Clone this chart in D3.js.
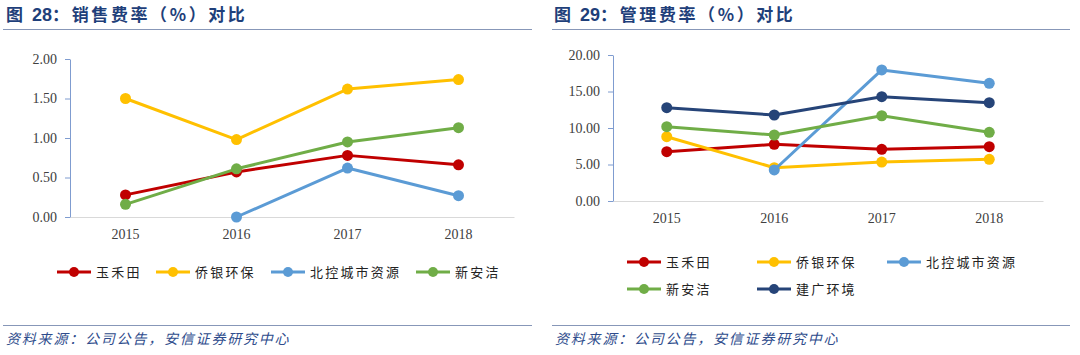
<!DOCTYPE html>
<html><head><meta charset="utf-8">
<script src="https://cdn.jsdelivr.net/npm/d3@7"></script>
<style>
html,body{margin:0;padding:0;background:#fff;}
svg{display:block;}
</style></head>
<body>
<svg id="c" width="1080" height="355"></svg>
<script>
// ---- data ----
const years = ["2015","2016","2017","2018"];
const companies = ["玉禾田","侨银环保","北控城市资源","新安洁","建广环境"];
const colors = ["#C00000","#FFC000","#5B9BD5","#70AD47","#264478"];

// 图28 销售费率 (%)
const sales_yuhetian = [0.28, 0.57, 0.78, 0.66];
const sales_qiaoyin  = [1.50, 0.98, 1.62, 1.74];
const sales_beikong  = [null, 0.00, 0.62, 0.27];
const sales_xinanjie = [0.16, 0.61, 0.95, 1.13];
const salesTicks = [0, 0.5, 1.0, 1.5, 2.0];

// 图29 管理费率 (%)
const admin_yuhetian = [6.75, 7.76, 7.08, 7.44];
const admin_qiaoyin  = [8.81, 4.56, 5.34, 5.71];
const admin_beikong  = [null, 4.25, 17.95, 16.12];
const admin_xinanjie = [10.18, 9.04, 11.68, 9.41];
const admin_jianguang= [12.78, 11.78, 14.29, 13.47];
const adminTicks = [0, 5, 10, 15, 20];

const source = "资料来源：公司公告，安信证券研究中心";

const svg = d3.select("#c");
const titleColor = "#1F3F7A";
const cjk = "'Noto Sans CJK SC','Noto Sans',sans-serif";
const serif = "'Liberation Serif','DejaVu Serif',serif";

function panel(o){
  const g = svg.append("g");
  // title
  const t = g.append("text").attr("x", o.tx).attr("y", 21)
    .attr("font-family", cjk).attr("font-weight", 700).attr("font-size", 17)
    .attr("fill", titleColor).attr("letter-spacing", 2.6);
  t.append("tspan").text("图 ");
  t.append("tspan").attr("font-family","'Liberation Sans',Arial,sans-serif").attr("font-size",18)
    .attr("letter-spacing", 0).text(o.num);
  t.append("tspan").text(o.title);
  g.append("line").attr("x1", o.lx1).attr("x2", o.lx2).attr("y1", 29.5).attr("y2", 29.5)
    .attr("stroke", "#8797B8").attr("stroke-width", 1);
  // footer
  g.append("line").attr("x1", o.lx1).attr("x2", o.lx2).attr("y1", 325.5).attr("y2", 325.5)
    .attr("stroke", "#8797B8").attr("stroke-width", 1);
  g.append("text").attr("x", o.lx1 + 3).attr("y", 344)
    .attr("font-family", cjk).attr("font-style", "italic").attr("font-size", 14)
    .attr("letter-spacing", 1.8).attr("fill", "#2E4C8C").text(source);

  const x = d3.scaleBand().domain(years).range([o.x0, o.x1]);
  const y = d3.scaleLinear().domain([o.ticks[0], o.ticks[o.ticks.length-1]]).range([o.y0, o.y1]);

  // x axis
  const xa = g.append("g").attr("transform", `translate(0,${o.y0})`)
    .call(d3.axisBottom(x).tickSize(0).tickPadding(12));
  xa.select(".domain").attr("stroke", "#D9D9D9").attr("stroke-width", 1);
  xa.selectAll("text").attr("font-family", serif).attr("font-size", 14).attr("fill", "#404040");
  // y axis
  const ya = g.append("g").attr("transform", `translate(${o.x0},0)`)
    .call(d3.axisLeft(y).tickValues(o.ticks).tickFormat(d3.format(".2f")).tickSize(5).tickSizeOuter(0).tickPadding(8));
  ya.select(".domain").attr("stroke", "#7F9CD0").attr("stroke-width", 1);
  ya.selectAll(".tick line").attr("stroke", "#7F9CD0");
  ya.selectAll("text").attr("font-family", serif).attr("font-size", 14).attr("fill", "#404040");

  const line = d3.line().defined(d => d.v != null)
    .x(d => x(d.k) + x.bandwidth()/2).y(d => y(d.v));
  o.series.forEach((s, i) => {
    const pts = years.map((k, j) => ({k, v: s.values[j]}));
    g.append("path").datum(pts).attr("d", line).attr("fill", "none")
      .attr("stroke", s.color).attr("stroke-width", 3).attr("stroke-linejoin","round");
    g.selectAll(null).data(pts.filter(d => d.v != null)).join("circle")
      .attr("cx", d => x(d.k) + x.bandwidth()/2).attr("cy", d => y(d.v)).attr("r", 5.5)
      .attr("fill", s.color);
  });

  // legend
  o.series.forEach((s, i) => {
    const p = o.legendPos[i];
    const lg = g.append("g").attr("transform", `translate(${p[0]},${p[1]})`);
    lg.append("line").attr("x1", 0).attr("x2", 34).attr("y1", 0).attr("y2", 0)
      .attr("stroke", s.color).attr("stroke-width", 3);
    lg.append("circle").attr("cx", 17).attr("cy", 0).attr("r", 5).attr("fill", s.color);
    lg.append("text").attr("x", 39).attr("y", 0).attr("dy", "0.36em")
      .attr("font-family", cjk).attr("font-size", 13).attr("fill", "#222")
      .attr("letter-spacing", 2.2).text(s.name);
  });
}

panel({
  tx: 6, num: "28", title: "：销售费率（%）对比", lx1: 3, lx2: 532,
  x0: 70, x1: 514, y0: 217, y1: 59, ticks: salesTicks,
  series: [
    {name: companies[0], color: colors[0], values: sales_yuhetian},
    {name: companies[1], color: colors[1], values: sales_qiaoyin},
    {name: companies[2], color: colors[2], values: sales_beikong},
    {name: companies[3], color: colors[3], values: sales_xinanjie}
  ],
  legendPos: [[57,272],[156,272],[271,272],[416,272]]
});

panel({
  tx: 554, num: "29", title: "：管理费率（%）对比", lx1: 552, lx2: 1070,
  x0: 613, x1: 1043, y0: 201, y1: 55, ticks: adminTicks,
  series: [
    {name: companies[0], color: colors[0], values: admin_yuhetian},
    {name: companies[1], color: colors[1], values: admin_qiaoyin},
    {name: companies[2], color: colors[2], values: admin_beikong},
    {name: companies[3], color: colors[3], values: admin_xinanjie},
    {name: companies[4], color: colors[4], values: admin_jianguang}
  ],
  legendPos: [[627,262],[757,262],[887,262],[627,289],[757,289]]
});
</script>
</body></html>
